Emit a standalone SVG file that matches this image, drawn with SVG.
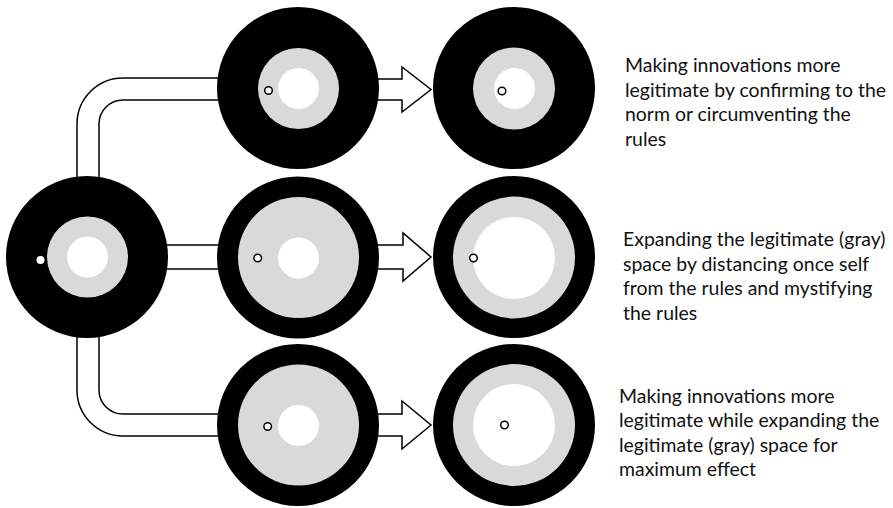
<svg xmlns="http://www.w3.org/2000/svg" width="893" height="508" viewBox="0 0 893 508">
<style>
.pipe{fill:#fff;stroke:#000;stroke-width:1.5;stroke-linejoin:miter}
.outer{fill:#000}
.gray{fill:#d9d9d9}
.hole{fill:#fff}
.dot{fill:#fff;stroke:#000;stroke-width:1.5}
.lbl{font-family:Lato,"Open Sans","Liberation Sans",sans-serif;font-size:19.45px;fill:#111}
</style>
<rect width="893" height="508" fill="#fff"/>
<g id="connectors">
<path class="pipe" d="M77,200 L77,124 A46,46 0 0 1 123,78 L230,78 L230,100 L123,100 A24,24 0 0 0 99,124 L99,200 Z"/>
<path class="pipe" d="M77,310 L77,390 A46,46 0 0 0 123,436 L230,436 L230,414 L123,414 A24,24 0 0 1 99,390 L99,310 Z"/>
<rect class="pipe" x="150" y="245" width="80" height="24"/>
<polygon class="pipe" points="370,79 402,79 402,67 431,89.5 402,112 402,100 370,100"/>
<polygon class="pipe" points="370,245 403,245 403,233 431,257 403,281 403,269 370,269"/>
<polygon class="pipe" points="370,414 402,414 402,401 431,425 402,449 402,436 370,436"/>
</g>
<g id="start">
<circle class="outer" cx="87" cy="257" r="81"/>
<circle class="gray" cx="87.5" cy="257" r="40.5"/>
<circle class="hole" cx="87.5" cy="257" r="20.5"/>
<circle cx="40.5" cy="260" r="4" fill="#fff"/>
</g>
<g id="top-mid">
<circle class="outer" cx="298" cy="88" r="81"/>
<circle class="gray" cx="298.5" cy="88.5" r="40.5"/>
<circle class="hole" cx="298.5" cy="88.5" r="20.5"/>
<circle class="dot" cx="268.5" cy="90.5" r="3.8"/>
</g>
<g id="top-right">
<circle class="outer" cx="514" cy="88" r="81"/>
<circle class="gray" cx="514" cy="88.5" r="41"/>
<circle class="hole" cx="514.5" cy="88.5" r="20.5"/>
<circle class="dot" cx="502" cy="91" r="3.8"/>
</g>
<g id="mid-mid">
<circle class="outer" cx="298" cy="257.5" r="81"/>
<circle class="gray" cx="298.5" cy="257.5" r="60.5"/>
<circle class="hole" cx="298.5" cy="258" r="20.5"/>
<circle class="dot" cx="257.7" cy="258" r="3.8"/>
</g>
<g id="mid-right">
<circle class="outer" cx="514" cy="257" r="81"/>
<circle class="gray" cx="514" cy="257.5" r="61"/>
<circle class="hole" cx="514" cy="258" r="41"/>
<circle class="dot" cx="473.5" cy="258" r="3.8"/>
</g>
<g id="bot-mid">
<circle class="outer" cx="298" cy="425" r="81"/>
<circle class="gray" cx="298.5" cy="425" r="60.5"/>
<circle class="hole" cx="298.5" cy="425.5" r="20.5"/>
<circle class="dot" cx="267.7" cy="426.5" r="3.8"/>
</g>
<g id="bot-right">
<circle class="outer" cx="514" cy="425" r="81"/>
<circle class="gray" cx="514" cy="425" r="61"/>
<circle class="hole" cx="514" cy="425" r="41"/>
<circle class="dot" cx="504.5" cy="425" r="3.8"/>
</g>
<g id="label-top" class="lbl">
<text x="625" y="72">Making innovations more</text>
<text x="625" y="96.5">legitimate by confirming to the</text>
<text x="625" y="121">norm or circumventing the</text>
<text x="625" y="145.5">rules</text>
</g>
<g id="label-mid" class="lbl">
<text x="623" y="246">Expanding the legitimate (gray)</text>
<text x="623" y="270.5">space by distancing once self</text>
<text x="623" y="295">from the rules and mystifying</text>
<text x="623" y="319.5">the rules</text>
</g>
<g id="label-bot" class="lbl">
<text x="619" y="402.5">Making innovations more</text>
<text x="619" y="427">legitimate while expanding the</text>
<text x="619" y="451.5">legitimate (gray) space for</text>
<text x="619" y="476">maximum effect</text>
</g>
</svg>
